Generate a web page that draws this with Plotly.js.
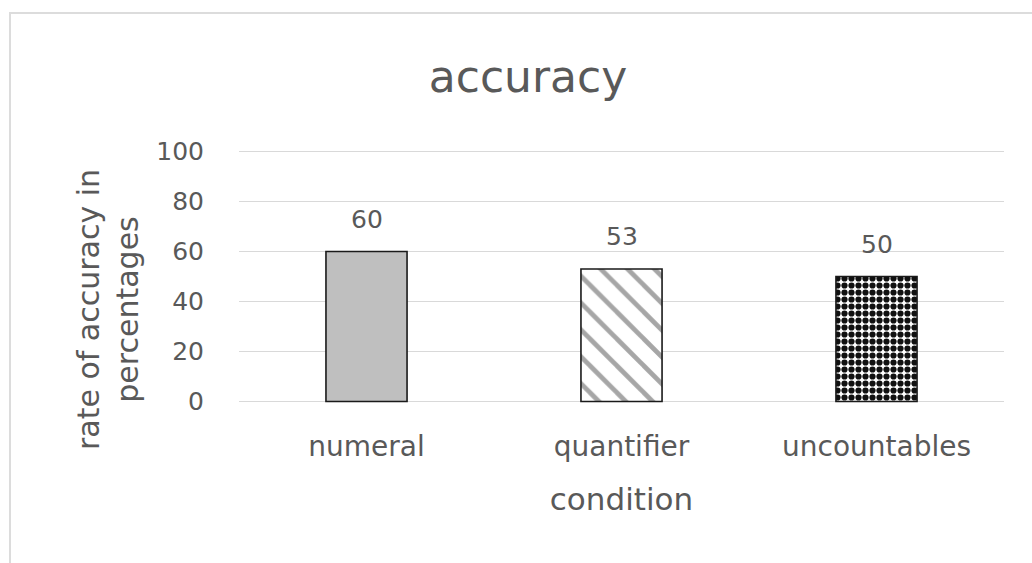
<!DOCTYPE html>
<html>
<head>
<meta charset="utf-8">
<script src="https://cdn.plot.ly/plotly-3.0.1.min.js"></script>
<style>
  html, body { margin: 0; padding: 0; background: #ffffff; overflow: hidden; }
  #wrap { position: relative; width: 1032px; height: 563px; overflow: hidden; }
  #frame { position: absolute; left: 9px; top: 12px; width: 1200px; height: 800px;
           border-left: 2px solid #dcdcdc; border-top: 2px solid #dcdcdc; }
  #chart { position: absolute; left: 0; top: 0; width: 1032px; height: 563px; }
</style>
</head>
<body>
<div id="wrap">
  <div id="frame"></div>
  <div id="chart"></div>
</div>
<script>
// ---- data ----
const categories = ["numeral", "quantifier", "uncountables"];
const accuracy = [60, 53, 50];
const yTicks = [0, 20, 40, 60, 80, 100];

// ---- styles ----
const FONT = "DejaVu Sans, Liberation Sans, Arial, sans-serif";
const TEXT = "#595959";
const barFill = ["#bfbfbf", "#ffffff", "#ffffff"];
const barPattern = [
  { shape: "", fgcolor: "#000000", size: 8, solidity: 0.3 },
  { shape: "\\", fgcolor: "#a6a6a6", size: 19, solidity: 0.25 },
  { shape: ".", fgcolor: "#111111", size: 7, solidity: 0.62 }
];

const traces = categories.map((c, i) => ({
  type: "bar",
  name: c,
  x: [c],
  y: [accuracy[i]],
  width: 0.318,
  marker: {
    color: barFill[i],
    pattern: {
      shape: barPattern[i].shape,
      fgcolor: barPattern[i].fgcolor,
      fgopacity: 1,
      size: barPattern[i].size,
      solidity: barPattern[i].solidity,
      fillmode: "overlay"
    },
    line: { color: "#1a1a1a", width: 1.6 }
  },
  hoverinfo: "x+y",
  showlegend: false
}));

const valueLabels = categories.map((c, i) => ({
  x: c, y: accuracy[i], xref: "x", yref: "y",
  text: String(accuracy[i]), showarrow: false,
  yanchor: "bottom", yshift: 16,
  font: { family: FONT, size: 25, color: TEXT }
}));

const yTitle = {
  xref: "paper", yref: "paper", x: -0.172, y: 0.37,
  xanchor: "center", yanchor: "middle",
  text: "rate of accuracy in<br>percentages",
  textangle: -90, showarrow: false,
  font: { family: FONT, size: 30, color: TEXT }
};

const layout = {
  width: 1032, height: 563,
  margin: { l: 239, r: 28, t: 148.5, b: 158.5, pad: 0 },
  paper_bgcolor: "rgba(0,0,0,0)",
  plot_bgcolor: "rgba(0,0,0,0)",
  font: { family: FONT, color: TEXT },
  barmode: "overlay",
  title: {
    text: "accuracy",
    font: { family: FONT, size: 44, color: TEXT },
    xref: "container", yref: "container",
    x: 528 / 1032, xanchor: "center",
    y: 1 - 77 / 563, yanchor: "middle"
  },
  xaxis: {
    type: "category",
    categoryorder: "array",
    categoryarray: categories,
    tickvals: categories,
    ticktext: categories,
    ticks: "outside", ticklen: 17.5, tickcolor: "rgba(0,0,0,0)",
    tickfont: { family: FONT, size: 28, color: TEXT },
    showline: false, showgrid: false, zeroline: false,
    title: { text: "condition", font: { family: FONT, size: 31, color: TEXT }, standoff: 26 },
    automargin: false,
    fixedrange: true
  },
  yaxis: {
    range: [-1, 101],
    tickvals: yTicks,
    ticktext: yTicks.map(String),
    ticks: "outside", ticklen: 29, tickcolor: "rgba(0,0,0,0)",
    tickfont: { family: FONT, size: 25, color: TEXT },
    showgrid: true, gridcolor: "#d9d9d9", gridwidth: 1.6,
    zeroline: false, showline: false,
    automargin: false,
    fixedrange: true
  },
  annotations: valueLabels.concat([yTitle])
};

Plotly.newPlot("chart", traces, layout, { displayModeBar: false, staticPlot: true });
</script>
</body>
</html>
